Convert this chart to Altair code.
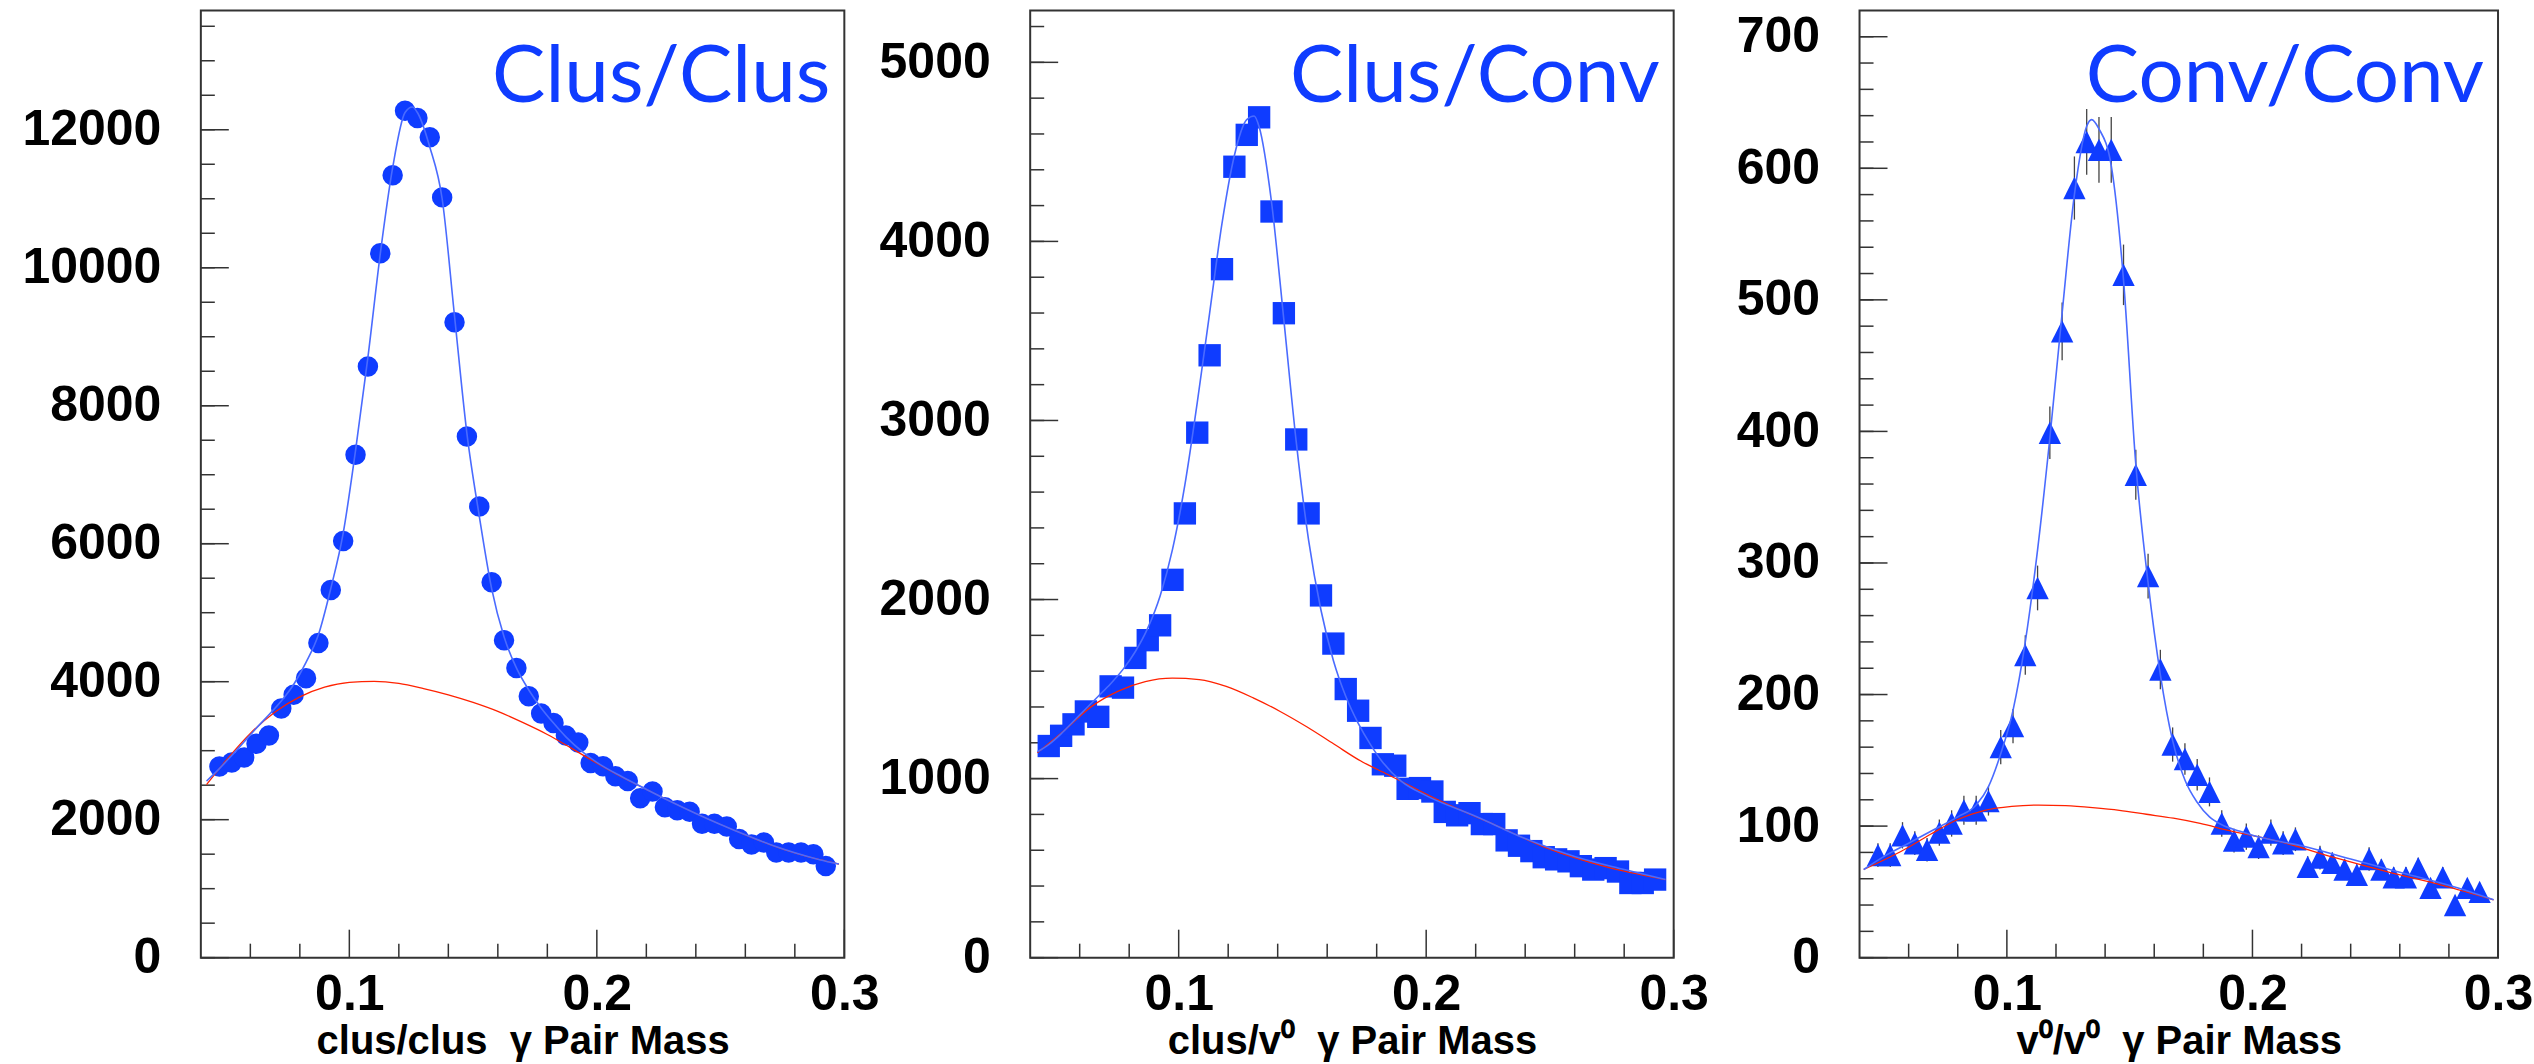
import altair as alt
import pandas as pd

# ---------------- data ----------------
mass = [0.0475, 0.0525, 0.0575, 0.0625, 0.0675, 0.0725, 0.0775, 0.0825, 0.0875, 0.0925,
        0.0975, 0.1025, 0.1075, 0.1125, 0.1175, 0.1225, 0.1275, 0.1325, 0.1375, 0.1425,
        0.1475, 0.1525, 0.1575, 0.1625, 0.1675, 0.1725, 0.1775, 0.1825, 0.1875, 0.1925,
        0.1975, 0.2025, 0.2075, 0.2125, 0.2175, 0.2225, 0.2275, 0.2325, 0.2375, 0.2425,
        0.2475, 0.2525, 0.2575, 0.2625, 0.2675, 0.2725, 0.2775, 0.2825, 0.2875, 0.2925]

clus_clus = [2770, 2830, 2900, 3100, 3220, 3610, 3810, 4050, 4560, 5330,
             6040, 7290, 8570, 10210, 11340, 12275, 12170, 11890, 11020, 9210,
             7555, 6540, 5440, 4600, 4200, 3790, 3540, 3400, 3220, 3120,
             2820, 2775, 2630, 2560, 2310, 2410, 2180, 2135, 2115, 1940,
             1940, 1900, 1720, 1640, 1670, 1525, 1525, 1525, 1500, 1330]

clus_conv = [1182, 1239, 1303, 1375, 1345, 1515, 1508, 1674, 1773, 1856,
             2110, 2481, 2932, 3364, 3845, 4417, 4595, 4693, 4167, 3599,
             2894, 2481, 2023, 1754, 1500, 1379, 1227, 1080, 1072, 943,
             947, 928, 814, 795, 807, 746, 746, 655, 625, 595,
             561, 549, 538, 511, 492, 500, 481, 417, 417, 436]

conv_conv = [78, 78, 93, 87, 82, 95, 102, 112, 112, 119,
             160, 176, 230, 281, 399, 476, 585, 620, 614, 614,
             519, 367, 290, 219, 162, 151, 139, 126, 102, 89,
             92, 84, 95, 87, 90, 69, 76, 72, 67, 63,
             75, 67, 61, 61, 68, 53, 61, 40, 53, 50]

conv_conv_err = [9, 9, 10, 9, 9, 10, 10, 11, 11, 11,
                 13, 13, 15, 17, 20, 22, 24, 25, 25, 25,
                 23, 19, 17, 15, 13, 12, 12, 11, 10, 9,
                 10, 9, 10, 9, 9, 8, 9, 8, 8, 8,
                 9, 8, 8, 8, 8, 7, 8, 6, 7, 7]

# total fit (blue) and background (red) curves
fit1_x = [0.0423, 0.0475, 0.0525, 0.0575, 0.0625, 0.0675, 0.0725, 0.0775, 0.0825, 0.0875,
          0.0925, 0.0975, 0.1025, 0.1075, 0.1125, 0.1175, 0.1225, 0.1255, 0.1275, 0.1325,
          0.1375, 0.1425, 0.1475, 0.1525, 0.1575, 0.1625, 0.1675, 0.1725, 0.1775, 0.1825,
          0.1875, 0.195, 0.20, 0.21, 0.22, 0.23, 0.24, 0.25, 0.26, 0.27, 0.28, 0.29, 0.2978]
fit1_y = [2560, 2740, 2930, 3130, 3330, 3520, 3720, 3960, 4280, 4680,
          5350, 6150, 7350, 8700, 10200, 11450, 12250, 12330, 12250, 11750,
          11000, 9300, 7600, 6400, 5350, 4650, 4200, 3880, 3620, 3400,
          3200, 2960, 2830, 2625, 2440, 2260, 2090, 1930, 1780, 1640, 1520, 1420, 1357]
bg1_x = [0.0423, 0.05, 0.06, 0.07, 0.08, 0.09, 0.10, 0.11, 0.12, 0.13,
         0.14, 0.15, 0.16, 0.17, 0.18, 0.19, 0.20, 0.21, 0.22, 0.23,
         0.24, 0.25, 0.26, 0.27, 0.28, 0.29, 0.2978]
bg1_y = [2508, 2850, 3250, 3560, 3780, 3920, 3990, 4005, 3975, 3900,
         3810, 3700, 3570, 3410, 3235, 3030, 2820, 2620, 2440, 2260,
         2090, 1930, 1780, 1640, 1520, 1420, 1357]

fit2_x = [0.0429, 0.0475, 0.0525, 0.0575, 0.0625, 0.0675, 0.0725, 0.0775, 0.0825, 0.0875,
          0.0925, 0.0975, 0.1025, 0.1075, 0.1125, 0.1175, 0.1225, 0.1275, 0.1305, 0.1325,
          0.1375, 0.1425, 0.1475, 0.1525, 0.1575, 0.1625, 0.1675, 0.1725, 0.1775, 0.1825,
          0.19, 0.20, 0.22, 0.24, 0.26, 0.28, 0.2967]
fit2_y = [1150, 1190, 1250, 1320, 1390, 1460, 1530, 1610, 1710, 1840,
          2020, 2280, 2640, 3100, 3600, 4100, 4480, 4680, 4700, 4640,
          4220, 3560, 2880, 2330, 1940, 1660, 1460, 1310, 1190, 1090,
          985, 905, 790, 665, 565, 492, 436]
bg2_x = [0.0429, 0.0538, 0.0647, 0.0756, 0.0865, 0.0974, 0.1083, 0.1192, 0.1301, 0.1410,
         0.1519, 0.1627, 0.1736, 0.1845, 0.2063, 0.2281, 0.2499, 0.2717, 0.2967]
bg2_y = [1144, 1269, 1402, 1489, 1542, 1561, 1553, 1515, 1451, 1375,
         1288, 1193, 1098, 1023, 871, 739, 606, 511, 436]

fit3_x = [0.0417, 0.05, 0.06, 0.07, 0.08, 0.0875, 0.0925, 0.0975, 0.1025, 0.1075,
          0.1125, 0.1175, 0.1225, 0.1275, 0.1325, 0.1345, 0.1375, 0.1425, 0.1475, 0.1525,
          0.1575, 0.1625, 0.1675, 0.1725, 0.1775, 0.1825, 0.1875, 0.195, 0.20, 0.22,
          0.24, 0.26, 0.28, 0.2982]
fit3_y = [67, 77, 87, 97, 107, 116, 130, 155, 188, 240,
          310, 395, 490, 580, 632, 637, 630, 602, 515, 375,
          285, 215, 165, 135, 118, 107, 101, 96, 93, 85,
          75, 65, 55, 44]
bg3_x = [0.0417, 0.0581, 0.0691, 0.0800, 0.0910, 0.1020, 0.1129, 0.1239, 0.1349, 0.1458,
         0.1568, 0.1678, 0.1787, 0.1897, 0.2116, 0.2336, 0.2555, 0.2774, 0.2982]
bg3_y = [67, 82, 94, 105, 112, 115, 116, 115.5, 114, 112,
         109, 106, 102, 97, 88, 76, 65, 55, 44]

# axis ticks
x_major = [0.1, 0.2, 0.3]
x_minor = [0.06, 0.08, 0.12, 0.14, 0.16, 0.18, 0.22, 0.24, 0.26, 0.28]
y1_major = [0, 2000, 4000, 6000, 8000, 10000, 12000]
y1_minor = list(range(0, 14000, 500))
y2_major = [0, 1000, 2000, 3000, 4000, 5000]
y2_minor = list(range(0, 5290, 200))
y3_major = [0, 100, 200, 300, 400, 500, 600, 700]
y3_minor = list(range(0, 720, 20))

labels = ["Clus/Clus", "Clus/Conv", "Conv/Conv"]
x_titles = ["clus/clus\u00a0 γ Pair Mass", "clus/v⁰\u00a0 γ Pair Mass", "v⁰/v⁰\u00a0 γ Pair Mass"]

# ---------------- style ----------------
FONT = "Liberation Sans"
MARK_BLUE = "#0f3cff"
FIT_BLUE = "#4a6bff"
BG_RED = "#ff2200"
TICK = "#333333"
X_DOMAIN = [0.04, 0.3]
H = 948


def panel(counts, shape, size, fx, fy, bx, by, ymax, ymaj, ymin, label, xtitle, width, errs=None):
    xs = alt.Scale(domain=X_DOMAIN, nice=False, zero=False)
    ys = alt.Scale(domain=[0, ymax], nice=False, zero=False)
    xax = alt.Axis(values=x_major, format=".1f", title=xtitle, labelPadding=12,
                   titlePadding=2, labelFlush=False)
    yax = alt.Axis(values=ymaj, format="d", title="", labelPadding=40)

    def X(f):
        return alt.X(f, scale=xs, axis=xax)

    def Y(f):
        return alt.Y(f, scale=ys, axis=yax)

    layers = []
    # inward ticks
    for vals, ln in ((ymaj, 28), (ymin, 14)):
        layers.append(
            alt.Chart(pd.DataFrame({"v": vals})).mark_rule(color=TICK, strokeWidth=1.5).encode(
                y=Y("v:Q"), x=alt.value(0), x2=alt.value(ln))
        )
    for vals, ln in ((x_major, 28), (x_minor, 14)):
        layers.append(
            alt.Chart(pd.DataFrame({"v": vals})).mark_rule(color=TICK, strokeWidth=1.5).encode(
                x=X("v:Q"), y=alt.value(H), y2=alt.value(H - ln))
        )

    df = pd.DataFrame({"m": mass, "c": counts})
    if errs is not None:
        df["e"] = errs
        layers.append(
            alt.Chart(df).transform_calculate(lo="datum.c - datum.e", hi="datum.c + datum.e")
            .mark_rule(color="#444444", strokeWidth=1.3)
            .encode(x=X("m:Q"), y=Y("lo:Q"), y2="hi:Q")
        )

    layers.append(
        alt.Chart(df).mark_point(filled=True, shape=shape, size=size, color=MARK_BLUE,
                                 opacity=1, strokeWidth=0)
        .encode(x=X("m:Q"), y=Y("c:Q"))
    )
    layers.append(
        alt.Chart(pd.DataFrame({"x": bx, "y": by})).mark_line(
            color=BG_RED, strokeWidth=1.3, interpolate="monotone")
        .encode(x=X("x:Q"), y=Y("y:Q"))
    )
    layers.append(
        alt.Chart(pd.DataFrame({"x": fx, "y": fy})).mark_line(
            color=FIT_BLUE, strokeWidth=1.6, interpolate="monotone")
        .encode(x=X("x:Q"), y=Y("y:Q"))
    )
    layers.append(
        alt.Chart(pd.DataFrame({"t": [label]})).mark_text(
            font="Lato", fontSize=80, color=MARK_BLUE, align="right", baseline="alphabetic")
        .encode(text="t:N", x=alt.value(width - 14), y=alt.value(92))
    )
    return alt.layer(*layers).properties(width=width, height=H)


p1 = panel(clus_clus, "circle", 420, fit1_x, fit1_y, bg1_x, bg1_y, 13730,
           y1_major, y1_minor, labels[0], x_titles[0], 644)
p2 = panel(clus_conv, "square", 500, fit2_x, fit2_y, bg2_x, bg2_y, 5290,
           y2_major, y2_minor, labels[1], x_titles[1], 644)
p3 = panel(conv_conv, "M0,-1L1,1L-1,1Z", 500, fit3_x, fit3_y, bg3_x, bg3_y, 720,
           y3_major, y3_minor, labels[2], x_titles[2], 639, errs=conv_conv_err)

chart = (
    alt.hconcat(p1, p2, p3, spacing=186, bounds="flush")
    .properties(padding={"left": 20, "top": 9, "right": 0, "bottom": 0},
                background="white")
    .configure_view(stroke="#333333", strokeWidth=2)
    .configure_axis(labelFont=FONT, labelFontWeight="bold", labelFontSize=50,
                    labelColor="black", titleFont=FONT, titleFontWeight="bold",
                    titleFontSize=40, titleColor="black", ticks=False, tickSize=0,
                    domain=False, grid=False, labelOverlap=False)
)

chart.save("out.html", embed_options={"renderer": "svg", "actions": False})
